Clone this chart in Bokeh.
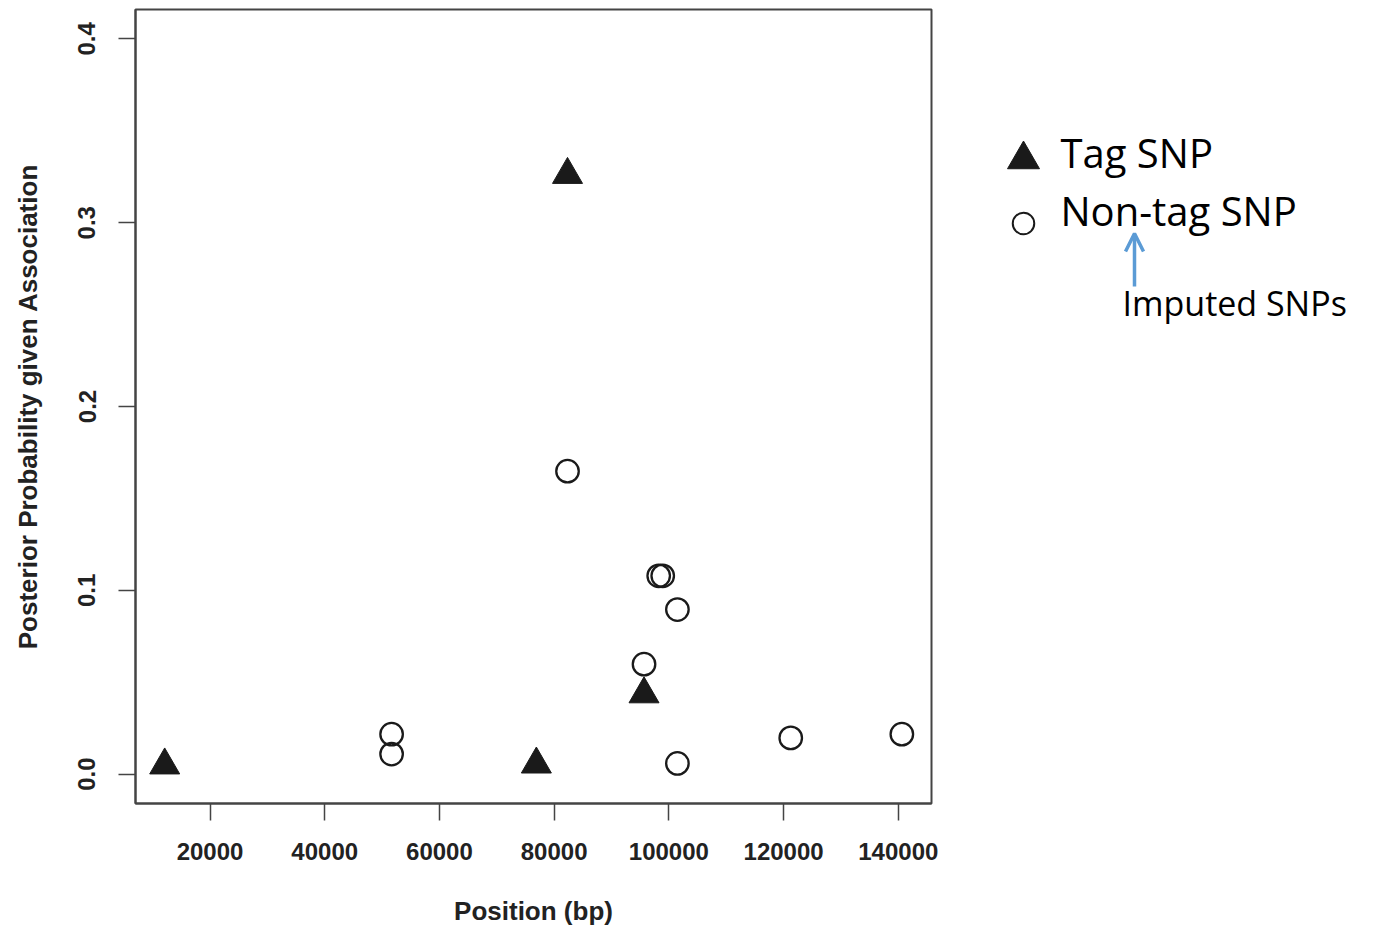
from bokeh.plotting import figure
from bokeh.layouts import row
from bokeh.models import FixedTicker, Range1d, Arrow, OpenHead, ColumnDataSource
from bokeh.core.properties import value
from bokeh.embed import file_html
from bokeh.resources import INLINE

# ---- data ----
tag_pos = [12100, 76900, 82330, 95670]
tag_pp = [0.0048, 0.0053, 0.3261, 0.0435]

nontag_pos = [82330, 98230, 98930, 101490, 95670, 51660, 51660, 101490, 121250, 140620]
nontag_pp = [0.1648, 0.1079, 0.1079, 0.0895, 0.0598, 0.0217, 0.0109, 0.0058, 0.0197, 0.0217]

x_ticks = [20000, 40000, 60000, 80000, 100000, 120000, 140000]
y_ticks = [0.0, 0.1, 0.2, 0.3, 0.4]
y_tick_labels = ["0.0", "0.1", "0.2", "0.3", "0.4"]

legend_labels = ["Tag SNP", "Non-tag SNP"]
note_text = "Imputed SNPs"

INK = "#1a1a1a"
AX = "#444444"
RFONT = "Liberation Sans"

p = figure(width=951, height=930, output_backend="svg", toolbar_location=None,
           x_range=Range1d(7010, 145790), y_range=Range1d(-0.016, 0.416),
           min_border_left=135, min_border_right=20, min_border_top=9, min_border_bottom=127,
           x_axis_label="Position (bp)", y_axis_label="Posterior Probability given Association")
p.grid.visible = False
p.outline_line_color = AX
p.outline_line_width = 2
p.background_fill_color = "white"
p.border_fill_color = "white"

p.xaxis.ticker = FixedTicker(ticks=x_ticks)
p.yaxis.ticker = FixedTicker(ticks=y_ticks)
p.xaxis.major_label_overrides = {t: str(t) for t in x_ticks}
p.yaxis.major_label_overrides = {t: l for t, l in zip(y_ticks, y_tick_labels)}
p.yaxis.major_label_orientation = "vertical"

for ax in (p.xaxis, p.yaxis):
    ax.axis_line_color = AX
    ax.axis_line_width = 2
    ax.major_tick_line_color = AX
    ax.major_tick_line_width = 1.5
    ax.major_tick_out = 17
    ax.major_tick_in = 0
    ax.minor_tick_line_color = None
    ax.major_label_text_font = RFONT
    ax.major_label_text_font_style = "bold"
    ax.major_label_text_font_size = "24px"
    ax.major_label_text_color = "#222222"
    ax.axis_label_text_font = RFONT
    ax.axis_label_text_font_style = "bold"
    ax.axis_label_text_font_size = "26px"
    ax.axis_label_text_color = "#222222"

p.xaxis.major_label_standoff = 22
p.xaxis.axis_label_standoff = 33
p.yaxis.major_label_standoff = 23
p.yaxis.axis_label_standoff = 33

p.scatter(nontag_pos, nontag_pp, marker="circle", size=22.5, fill_alpha=0,
          line_color=INK, line_width=2.3)
p.scatter(tag_pos, tag_pp, marker="triangle", size=30, fill_color=INK, line_color=INK,
          line_width=1)

# ---- legend panel (right side); its frame spans the same rows as the main frame ----
lg = figure(width=431, height=930, output_backend="svg", toolbar_location=None,
            x_range=Range1d(0, 431), y_range=Range1d(803, 9),
            x_axis_location=None, y_axis_location=None,
            min_border_left=0, min_border_right=0, min_border_top=9, min_border_bottom=127,
            outline_line_color=None)
lg.grid.visible = False
lg.border_fill_color = "white"
lg.background_fill_color = "white"

lsrc = ColumnDataSource(dict(x=[109, 109], y=[152, 210], t=legend_labels))
lg.text(x="x", y="y", text="t", source=lsrc, text_font=value("Open Sans"),
        text_font_size="40px", text_baseline="alphabetic", text_color="black")
lg.scatter([72], [159], marker="triangle", size=32, fill_color=INK, line_color=INK)
lg.scatter([72], [223], marker="circle", size=21.5, fill_alpha=0, line_color=INK, line_width=2)

lg.text(x=[171], y=[302], text=[note_text], text_font=value("Open Sans"),
        text_font_size="34px", text_baseline="alphabetic", text_color="black")
lg.add_layout(Arrow(end=OpenHead(size=18, line_color="#5b9bd5", line_width=3.5),
                    x_start=183, y_start=286, x_end=183, y_end=233,
                    line_color="#5b9bd5", line_width=3.5))

layout = row(p, lg, spacing=0)
open("out.html", "w").write(file_html(layout, INLINE))
